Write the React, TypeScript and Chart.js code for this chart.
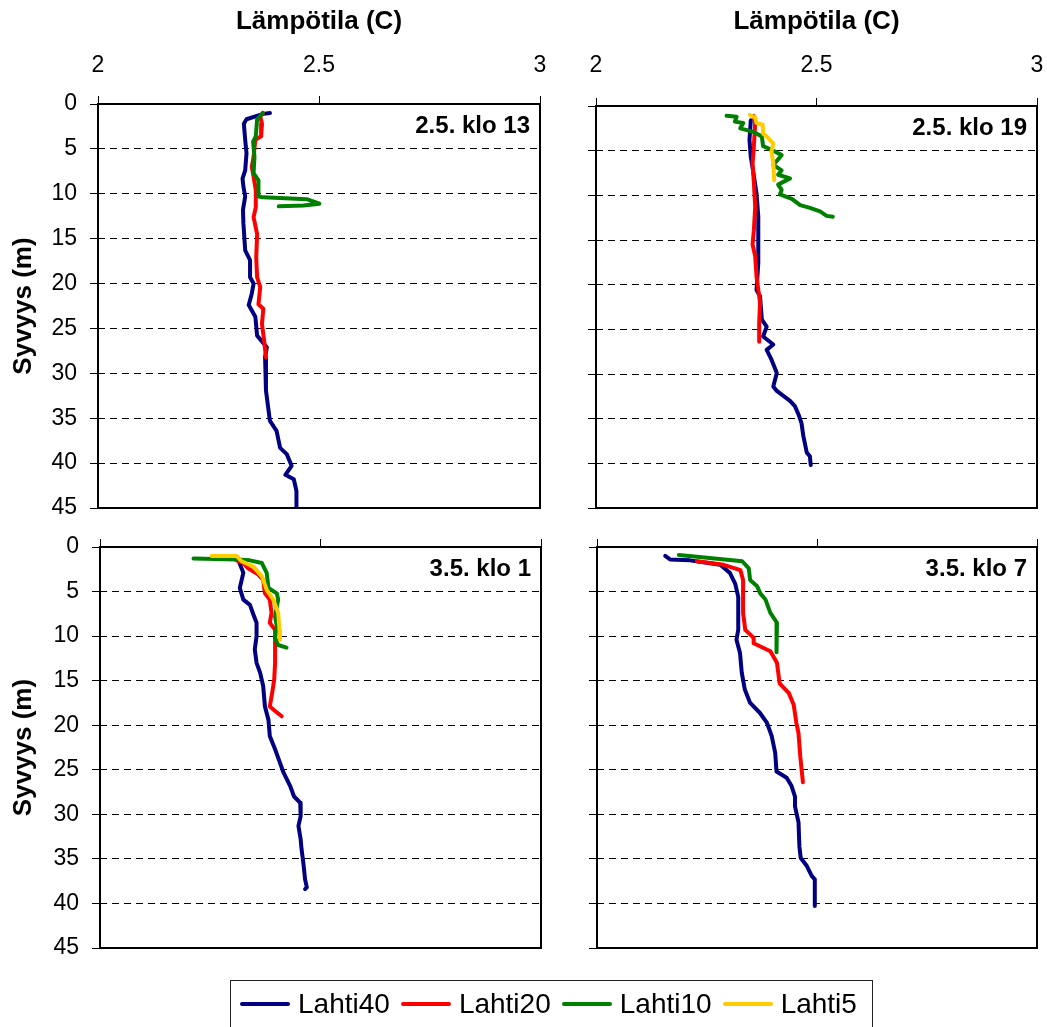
import React, { useEffect, useRef } from 'react';
import { Chart, registerables } from 'chart.js';

Chart.register(...registerables);

const FONT = '"Liberation Sans", Arial, Helvetica, sans-serif';

// ---------- labels / categories ----------
const seriesNames = ['Lahti40', 'Lahti20', 'Lahti10', 'Lahti5'];
const seriesColors = ['#000080', '#FF0000', '#008000', '#FFCC00'];
const panelLabels = ['2.5. klo 13', '2.5. klo 19', '3.5. klo 1', '3.5. klo 7'];
const xTitle = 'Lämpötila (C)';
const yTitle = 'Syvyys (m)';
const xTickValues = [2, 2.5, 3];
const xTickLabels = ['2', '2.5', '3'];
const yTickValues = [0, 5, 10, 15, 20, 25, 30, 35, 40, 45];
const yTickLabels = ['0', '5', '10', '15', '20', '25', '30', '35', '40', '45'];

// ---------- data: 2.5. klo 13 ----------
const klo13_lahti40_depth = [1.0, 1.1, 1.7, 2.2, 4.0, 5.5, 7.4, 8.3, 9.2, 10.3, 11.8, 13.3, 16.3, 17.4, 19.3, 20.0, 21.1, 22.4, 23.7, 25.8, 27.1, 28.2, 31.9, 35.3, 36.4, 38.3, 39.0, 40.3, 41.3, 41.8, 43.1, 45.0];
const klo13_lahti40_temp = [2.389, 2.374, 2.336, 2.330, 2.333, 2.336, 2.333, 2.327, 2.329, 2.333, 2.328, 2.329, 2.333, 2.344, 2.344, 2.352, 2.348, 2.341, 2.356, 2.360, 2.382, 2.378, 2.380, 2.389, 2.404, 2.412, 2.427, 2.438, 2.424, 2.443, 2.449, 2.449];
const klo13_lahti20_depth = [1.0, 1.4, 2.2, 3.6, 4.0, 5.9, 7.0, 8.1, 9.6, 11.5, 12.6, 14.5, 17.1, 19.3, 20.4, 22.3, 22.8, 24.5, 26.4, 28.2];
const klo13_lahti20_temp = [2.373, 2.367, 2.371, 2.369, 2.356, 2.352, 2.348, 2.352, 2.357, 2.357, 2.352, 2.360, 2.358, 2.360, 2.367, 2.363, 2.374, 2.371, 2.376, 2.380];
const klo13_lahti10_depth = [1.0, 1.7, 3.6, 4.2, 5.9, 7.7, 8.5, 10.3, 10.4, 10.6, 11.1, 11.3, 11.4];
const klo13_lahti10_temp = [2.373, 2.360, 2.357, 2.351, 2.354, 2.352, 2.363, 2.363, 2.374, 2.472, 2.501, 2.465, 2.409];

// ---------- data: 2.5. klo 19 ----------
const klo19_lahti40_depth = [1.6, 3.8, 5.7, 7.5, 9.8, 12.4, 14.9, 17.6, 20.6, 21.3, 23.9, 24.7, 25.8, 26.7, 27.3, 28.4, 29.9, 31.4, 31.9, 33.0, 33.6, 34.5, 35.5, 36.9, 38.8, 39.2, 40.2];
const klo19_lahti40_temp = [2.351, 2.348, 2.351, 2.357, 2.364, 2.368, 2.368, 2.368, 2.364, 2.372, 2.376, 2.387, 2.379, 2.402, 2.387, 2.398, 2.410, 2.402, 2.410, 2.440, 2.451, 2.459, 2.466, 2.470, 2.478, 2.485, 2.487];
const klo19_lahti20_depth = [1.1, 1.9, 4.5, 6.4, 8.6, 11.3, 13.9, 15.5, 16.8, 19.1, 20.6, 22.0, 24.3, 26.4];
const klo19_lahti20_temp = [2.357, 2.361, 2.358, 2.355, 2.358, 2.361, 2.358, 2.355, 2.361, 2.364, 2.368, 2.372, 2.370, 2.370];
const klo19_lahti10_depth = [1.1, 1.2, 1.75, 1.9, 2.5, 2.9, 3.4, 4.5, 4.9, 5.5, 6.6, 7.2, 7.7, 8.1, 8.8, 9.4, 9.9, 10.4, 11.1, 11.4, 11.8, 12.3, 12.4];
const klo19_lahti10_temp = [2.296, 2.319, 2.315, 2.334, 2.327, 2.357, 2.376, 2.379, 2.398, 2.421, 2.402, 2.421, 2.413, 2.440, 2.413, 2.421, 2.417, 2.444, 2.463, 2.485, 2.508, 2.523, 2.537];
const klo19_lahti5_depth = [1.0, 1.3, 1.9, 2.1, 3.1, 3.4, 4.2, 5.1, 6.4, 8.3];
const klo19_lahti5_temp = [2.349, 2.361, 2.364, 2.378, 2.379, 2.387, 2.402, 2.398, 2.402, 2.404];

// ---------- data: 3.5. klo 1 ----------
const klo1_lahti40_depth = [1.3, 1.5, 2.9, 4.6, 5.9, 6.5, 7.6, 8.5, 10.0, 11.5, 13.0, 14.1, 15.6, 17.9, 19.4, 21.2, 22.7, 24.2, 25.3, 26.8, 28.0, 28.7, 30.2, 31.3, 32.8, 33.9, 35.4, 37.3, 38.2, 38.4];
const klo1_lahti40_temp = [2.300, 2.314, 2.325, 2.317, 2.325, 2.340, 2.348, 2.355, 2.355, 2.351, 2.355, 2.363, 2.370, 2.374, 2.382, 2.385, 2.397, 2.408, 2.416, 2.431, 2.440, 2.454, 2.455, 2.450, 2.455, 2.457, 2.461, 2.465, 2.469, 2.465];
const klo1_lahti20_depth = [1.5, 1.8, 2.4, 3.1, 3.7, 5.2, 5.9, 7.4, 8.5, 9.3, 13.0, 14.9, 16.8, 17.9, 18.4, 19.0];
const klo1_lahti20_temp = [2.310, 2.325, 2.336, 2.359, 2.370, 2.374, 2.385, 2.389, 2.385, 2.397, 2.397, 2.395, 2.389, 2.385, 2.397, 2.412];
const klo1_lahti10_depth = [1.3, 1.4, 1.5, 1.8, 2.9, 4.6, 5.2, 5.9, 7.8, 8.9, 10.2, 11.0, 11.3];
const klo1_lahti10_temp = [2.212, 2.310, 2.340, 2.367, 2.378, 2.382, 2.401, 2.404, 2.397, 2.401, 2.397, 2.404, 2.423];
const klo1_lahti5_depth = [1.0, 1.0, 1.6, 2.2, 3.3, 4.8, 5.9, 7.4, 9.3, 10.4];
const klo1_lahti5_temp = [2.253, 2.310, 2.321, 2.348, 2.367, 2.378, 2.393, 2.404, 2.407, 2.408];

// ---------- data: 3.5. klo 7 ----------
const klo7_lahti40_depth = [1.0, 1.4, 1.5, 2.0, 2.9, 4.1, 5.6, 9.3, 10.4, 11.9, 14.1, 16.0, 17.5, 18.6, 19.7, 21.2, 23.1, 25.2, 25.9, 26.8, 28.0, 29.1, 30.9, 33.6, 34.9, 35.8, 36.9, 37.3, 40.3];
const klo7_lahti40_temp = [2.155, 2.166, 2.211, 2.280, 2.302, 2.314, 2.321, 2.321, 2.317, 2.325, 2.329, 2.336, 2.348, 2.370, 2.386, 2.397, 2.405, 2.408, 2.431, 2.442, 2.450, 2.450, 2.458, 2.460, 2.463, 2.477, 2.488, 2.495, 2.495];
const klo7_lahti20_depth = [1.6, 1.8, 2.0, 2.6, 3.7, 7.4, 9.3, 10.2, 10.8, 11.7, 13.0, 15.3, 16.4, 17.7, 19.7, 20.9, 23.5, 26.4];
const klo7_lahti20_temp = [2.227, 2.258, 2.288, 2.326, 2.332, 2.332, 2.337, 2.356, 2.356, 2.394, 2.409, 2.415, 2.436, 2.447, 2.453, 2.458, 2.462, 2.468];
const klo7_lahti10_depth = [0.9, 1.2, 1.6, 2.4, 3.7, 4.4, 5.2, 5.9, 7.4, 8.5, 10.4, 11.8];
const klo7_lahti10_temp = [2.186, 2.250, 2.330, 2.345, 2.348, 2.364, 2.371, 2.383, 2.394, 2.409, 2.409, 2.407];

type Series = { idx: number; temp: number[]; depth: number[] };

const panelSeries: Series[][] = [
  [
    { idx: 0, temp: klo13_lahti40_temp, depth: klo13_lahti40_depth },
    { idx: 1, temp: klo13_lahti20_temp, depth: klo13_lahti20_depth },
    { idx: 2, temp: klo13_lahti10_temp, depth: klo13_lahti10_depth },
  ],
  [
    { idx: 0, temp: klo19_lahti40_temp, depth: klo19_lahti40_depth },
    { idx: 1, temp: klo19_lahti20_temp, depth: klo19_lahti20_depth },
    { idx: 2, temp: klo19_lahti10_temp, depth: klo19_lahti10_depth },
    { idx: 3, temp: klo19_lahti5_temp, depth: klo19_lahti5_depth },
  ],
  [
    { idx: 0, temp: klo1_lahti40_temp, depth: klo1_lahti40_depth },
    { idx: 1, temp: klo1_lahti20_temp, depth: klo1_lahti20_depth },
    { idx: 2, temp: klo1_lahti10_temp, depth: klo1_lahti10_depth },
    { idx: 3, temp: klo1_lahti5_temp, depth: klo1_lahti5_depth },
  ],
  [
    { idx: 0, temp: klo7_lahti40_temp, depth: klo7_lahti40_depth },
    { idx: 1, temp: klo7_lahti20_temp, depth: klo7_lahti20_depth },
    { idx: 2, temp: klo7_lahti10_temp, depth: klo7_lahti10_depth },
  ],
];

// ---------- layout of the four panels ----------
type Layout = {
  left: number; top: number; width: number; height: number;
  axisLeft: number; axisTop: number; padRight: number; padBottom: number;
  showX: boolean; showY: boolean; xTickPad: number;
};

const layouts: Layout[] = [
  { left: 0, top: 0, width: 560, height: 520, axisLeft: 98, axisTop: 104, padRight: 20, padBottom: 12, showX: true, showY: true, xTickPad: 17 },
  { left: 560, top: 0, width: 487, height: 520, axisLeft: 36, axisTop: 106, padRight: 10, padBottom: 12, showX: true, showY: false, xTickPad: 19 },
  { left: 0, top: 520, width: 560, height: 470, axisLeft: 100, axisTop: 27, padRight: 19, padBottom: 42, showX: false, showY: true, xTickPad: 17 },
  { left: 560, top: 520, width: 487, height: 470, axisLeft: 37, axisTop: 27, padRight: 10, padBottom: 42, showX: false, showY: false, xTickPad: 17 },
];

const framePlugin = {
  id: 'frame',
  beforeDatasetsDraw(chart: any) {
    const { ctx, chartArea } = chart;
    ctx.save();
    ctx.strokeStyle = '#000';
    ctx.lineWidth = 2;
    ctx.strokeRect(chartArea.left, chartArea.top, chartArea.right - chartArea.left, chartArea.bottom - chartArea.top);
    ctx.restore();
  },
};

function makeLabelPlugin(text: string) {
  return {
    id: 'panelLabel',
    afterDraw(chart: any) {
      const { ctx, chartArea } = chart;
      ctx.save();
      ctx.font = `bold 24px ${FONT}`;
      ctx.fillStyle = '#000';
      ctx.textAlign = 'right';
      ctx.textBaseline = 'middle';
      ctx.fillText(text, chartArea.right - 10, chartArea.top + 22);
      ctx.restore();
    },
  };
}

function Panel({ index }: { index: number }) {
  const ref = useRef<HTMLCanvasElement>(null);
  const L = layouts[index];
  useEffect(() => {
    const series = panelSeries[index];
    const chart = new Chart(ref.current as HTMLCanvasElement, {
      type: 'scatter',
      data: {
        datasets: series.map((s) => ({
          label: seriesNames[s.idx],
          data: s.temp.map((t, j) => ({ x: t, y: s.depth[j] })),
          borderColor: seriesColors[s.idx],
          backgroundColor: seriesColors[s.idx],
          borderWidth: 4,
          showLine: true,
          pointRadius: 0,
          pointHoverRadius: 0,
          borderJoinStyle: 'round',
          borderCapStyle: 'round',
          tension: 0,
          order: 4 - s.idx,
        })),
      },
      options: {
        responsive: false,
        animation: false,
        devicePixelRatio: 1,
        events: [],
        layout: { padding: { left: 0, top: 0, right: L.padRight, bottom: L.padBottom } },
        plugins: { legend: { display: false }, tooltip: { enabled: false }, title: { display: false } },
        scales: {
          x: {
            type: 'linear',
            position: 'top',
            min: 2,
            max: 3,
            afterBuildTicks: (s: any) => {
              s.ticks = xTickValues.map((v) => ({ value: v }));
            },
            afterFit: (s: any) => {
              s.height = L.axisTop;
              s.paddingLeft = 0; s.paddingRight = 0; s.paddingTop = 0; s.paddingBottom = 0;
            },
            ticks: {
              display: L.showX,
              padding: L.xTickPad,
              maxRotation: 0,
              autoSkip: false,
              color: '#000',
              font: { size: 23, family: FONT },
              callback: (v: any) => {
                const i = xTickValues.indexOf(Number(v));
                return i >= 0 ? xTickLabels[i] : '';
              },
            },
            grid: { drawOnChartArea: false, drawTicks: true, tickLength: 8, color: '#000', tickColor: '#000', tickWidth: 1, lineWidth: 1 },
            border: { display: false },
            title: { display: L.showX, text: xTitle, color: '#000', font: { size: 26, weight: 'bold', family: FONT }, padding: { top: 6, bottom: 0 } },
          },
          y: {
            type: 'linear',
            position: 'left',
            reverse: true,
            min: 0,
            max: 45,
            afterBuildTicks: (s: any) => {
              s.ticks = yTickValues.map((v) => ({ value: v }));
            },
            afterFit: (s: any) => {
              s.width = L.axisLeft;
              s.paddingLeft = 0; s.paddingRight = 0; s.paddingTop = 0; s.paddingBottom = 0;
            },
            ticks: {
              display: L.showY,
              padding: 13,
              autoSkip: false,
              color: '#000',
              font: { size: 23, family: FONT },
              callback: (v: any) => {
                const i = yTickValues.indexOf(Number(v));
                return i >= 0 ? yTickLabels[i] : '';
              },
            },
            grid: {
              drawOnChartArea: true,
              drawTicks: true,
              tickLength: 8,
              lineWidth: 1,
              tickWidth: 1,
              tickColor: '#000',
              tickBorderDash: [],
              color: (c: any) => (c.tick && (c.tick.value === 0 || c.tick.value === 45) ? 'rgba(0,0,0,0)' : '#000'),
            },
            border: { display: false, dash: [7, 5] },
            title: { display: L.showY, text: yTitle, color: '#000', font: { size: 26, weight: 'bold', family: FONT }, padding: { top: 8, bottom: 0 } },
          },
        },
      } as any,
      plugins: [framePlugin, makeLabelPlugin(panelLabels[index])],
    } as any);
    return () => chart.destroy();
  }, [index]);
  return (
    <canvas
      ref={ref}
      width={L.width}
      height={L.height}
      style={{ position: 'absolute', left: L.left, top: L.top, width: L.width, height: L.height }}
    />
  );
}

function Legend() {
  return (
    <div
      style={{
        position: 'absolute',
        left: 230,
        top: 980,
        width: 643,
        height: 47,
        boxSizing: 'border-box',
        border: '1px solid #222',
        borderBottom: 'none',
        display: 'flex',
        alignItems: 'center',
        paddingLeft: 9,
        fontFamily: FONT,
        fontSize: 28,
        color: '#000',
      }}
    >
      {seriesNames.map((n, i) => (
        <div key={n} style={{ display: 'flex', alignItems: 'center', marginRight: 11 }}>
          <span style={{ display: 'inline-block', width: 50, height: 4, background: seriesColors[i], marginRight: 8, borderRadius: 2 }} />
          <span style={{ lineHeight: '30px' }}>{n}</span>
        </div>
      ))}
    </div>
  );
}

export default function App() {
  return (
    <div style={{ position: 'absolute', left: 0, top: 0, width: 1047, height: 1027, overflow: 'hidden', background: '#fff' }}>
      {[0, 1, 2, 3].map((i) => (
        <Panel key={i} index={i} />
      ))}
      <Legend />
    </div>
  );
}
